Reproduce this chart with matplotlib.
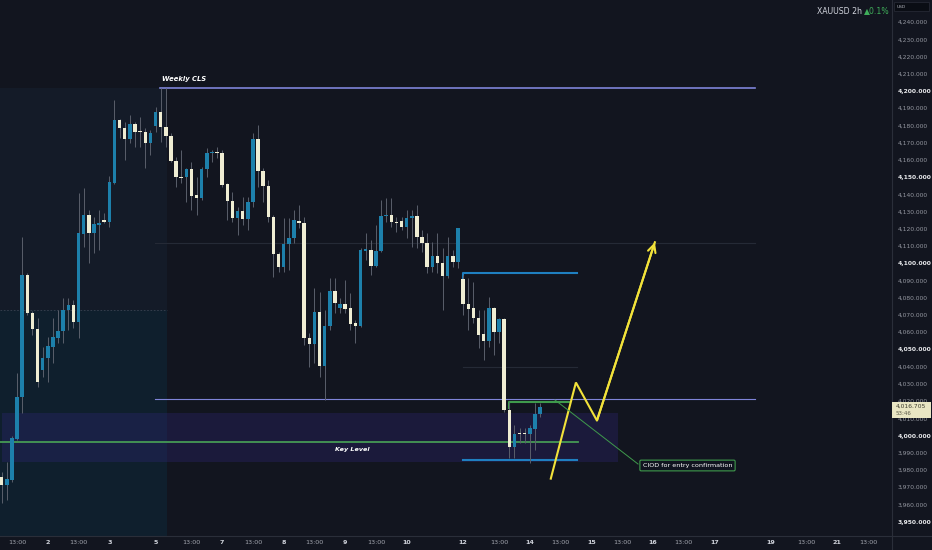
import matplotlib
matplotlib.use("Agg")
import matplotlib.pyplot as plt
from matplotlib.patches import Rectangle
from matplotlib.lines import Line2D

# ---------------- data ----------------
opens = [3975.9, 3971.2, 3974.2, 3997.9, 4022.3, 4093.0, 4071.0, 4061.7, 4038.0, 4044.9,
         4051.3, 4056.5, 4060.6, 4072.7, 4075.6, 4065.8, 4116.9, 4127.9, 4117.5, 4122.1,
         4125.0, 4123.8, 4146.5, 4183.1, 4178.4, 4172.1, 4180.8, 4176.7, 4176.1, 4169.8,
         4179.6, 4187.8, 4179.0, 4173.8, 4159.3, 4150.0, 4150.0, 4154.7, 4139.5, 4137.8,
         4154.7, 4164.0, 4164.5, 4164.0, 4146.0, 4136.0, 4126.2, 4130.2, 4125.6, 4135.5,
         4172.1, 4153.5, 4144.8, 4126.7, 4105.2, 4097.7, 4111.0, 4114.5, 4124.4, 4123.3,
         4056.5, 4053.0, 4071.6, 4040.3, 4063.5, 4083.8, 4073.9, 4076.2, 4073.9, 4065.2,
         4063.5, 4107.0, 4107.6, 4098.3, 4107.0, 4127.3, 4127.9, 4123.8, 4124.4, 4121.0,
         4126.2, 4127.3, 4115.1, 4111.6, 4097.7, 4104.1, 4100.0, 4092.5, 4104.1, 4100.6,
         4090.7, 4076.2, 4073.9, 4068.1, 4058.8, 4054.8, 4073.9, 4060.0, 4067.5, 4014.8,
         3993.3, 4001.4, 4001.4, 4000.8, 4003.7, 4012.4]
highs = [3978.8, 3984.6, 3999.7, 4036.2, 4115.1, 4094.2, 4072.2, 4068.1, 4051.3, 4057.1,
         4068.1, 4072.7, 4079.7, 4079.7, 4078.6, 4140.7, 4143.6, 4130.8, 4126.7, 4130.8,
         4129.1, 4150.6, 4194.8, 4183.6, 4181.9, 4186.0, 4181.9, 4184.9, 4178.4, 4177.3,
         4190.7, 4201.7, 4201.7, 4175.6, 4161.6, 4165.7, 4155.3, 4158.8, 4150.0, 4155.8,
         4166.9, 4165.7, 4167.4, 4165.7, 4146.5, 4141.3, 4132.6, 4138.4, 4138.4, 4175.6,
         4180.2, 4155.3, 4148.3, 4127.9, 4106.4, 4126.2, 4126.2, 4130.8, 4133.7, 4126.7,
         4059.4, 4085.5, 4083.2, 4072.7, 4091.3, 4091.3, 4079.7, 4090.2, 4082.6, 4067.0,
         4108.7, 4117.5, 4113.4, 4122.1, 4136.6, 4137.8, 4137.8, 4126.7, 4126.7, 4130.8,
         4130.8, 4133.7, 4119.2, 4117.5, 4112.2, 4117.5, 4108.7, 4115.1, 4107.6, 4120.4,
         4093.0, 4091.3, 4089.0, 4072.7, 4072.7, 4080.3, 4074.5, 4068.1, 4068.1, 4019.4,
         4006.1, 4004.3, 4004.3, 4006.1, 4018.8, 4018.8]
lows = [3960.8, 3962.5, 3973.0, 3997.4, 4013.0, 4069.9, 4058.3, 4028.1, 4033.9, 4031.0,
        4042.0, 4053.6, 4053.6, 4061.2, 4062.3, 4056.5, 4109.3, 4100.0, 4105.8, 4107.6,
        4123.3, 4121.0, 4146.0, 4172.7, 4159.9, 4169.8, 4167.4, 4167.4, 4155.3, 4162.8,
        4176.1, 4170.4, 4167.4, 4158.8, 4144.2, 4146.5, 4135.5, 4130.8, 4127.9, 4136.6,
        4150.0, 4158.8, 4161.1, 4144.2, 4125.0, 4123.8, 4116.3, 4122.1, 4119.2, 4132.6,
        4144.2, 4135.5, 4123.8, 4091.9, 4094.8, 4094.8, 4095.9, 4111.6, 4120.4, 4052.5,
        4039.7, 4042.0, 4033.9, 4020.6, 4061.2, 4071.0, 4071.0, 4071.0, 4061.2, 4053.6,
        4062.9, 4101.8, 4093.0, 4097.7, 4106.4, 4123.8, 4121.0, 4118.0, 4119.2, 4114.5,
        4109.3, 4108.7, 4106.4, 4094.2, 4094.8, 4094.2, 4072.7, 4091.3, 4097.7, 4097.1,
        4069.9, 4061.2, 4065.2, 4050.7, 4043.8, 4051.3, 4046.7, 4053.6, 4013.6, 3986.9,
        3986.9, 3995.6, 3995.6, 3984.0, 3991.6, 4010.7]
closes = [3971.2, 3974.7, 3998.5, 4022.3, 4093.0, 4071.0, 4061.7, 4031.0, 4044.9, 4051.9,
          4057.1, 4060.6, 4072.7, 4075.6, 4065.8, 4117.5, 4127.9, 4117.5, 4122.7, 4123.3,
          4123.8, 4147.1, 4183.1, 4178.4, 4172.1, 4180.8, 4176.1, 4176.1, 4169.8, 4175.6,
          4187.8, 4179.0, 4173.8, 4159.3, 4150.0, 4149.4, 4154.7, 4139.0, 4137.8, 4154.7,
          4164.0, 4164.5, 4164.0, 4145.4, 4136.0, 4126.2, 4130.2, 4125.6, 4135.5, 4172.1,
          4153.5, 4144.8, 4126.7, 4105.2, 4097.7, 4111.0, 4114.5, 4125.0, 4123.3, 4056.5,
          4053.0, 4071.6, 4040.3, 4063.5, 4083.8, 4076.8, 4076.2, 4073.3, 4064.6, 4063.5,
          4107.6, 4108.1, 4098.3, 4107.0, 4127.3, 4127.9, 4123.8, 4123.3, 4121.0, 4126.2,
          4127.3, 4115.1, 4111.6, 4097.7, 4104.1, 4100.0, 4092.5, 4104.1, 4100.6, 4120.4,
          4076.2, 4073.3, 4068.1, 4058.3, 4054.8, 4073.9, 4060.0, 4067.5, 4014.8, 3993.3,
          4000.8, 4000.8, 4000.8, 4004.3, 4012.4, 4016.705]

tick_bars = [3, 9, 15, 21, 30, 37, 43, 49, 55, 61, 67, 73, 79, 90, 97, 103, 109, 115,
             121, 127, 133, 139, 150, 157, 163, 169]
tick_labels = ["13:00", "2", "13:00", "3", "5", "13:00", "7", "13:00", "8", "13:00", "9",
               "13:00", "10", "12", "13:00", "14", "13:00", "15", "13:00", "16", "13:00",
               "17", "19", "13:00", "21", "13:00"]

price_ticks = list(range(3950, 4250, 10))

weekly_cls = 4201.7
upper_level = 4021.0
key_level = 3996.5
zone_top, zone_bot = 4013.0, 3984.6
target_top, target_bot = 4094.2, 3986.0
faint_hi, faint_mid = 4111.6, 4039.7
box_line = 4019.2
session_top = 4072.7
path_bars = [107.1, 112.0, 116.1, 127.4]
path_prices = [3975.0, 4030.8, 4008.7, 4112.2]
last_price = "4,016.705"
countdown = "53:46"

# ---------------- style ----------------
BG = "#12151f"
BLUE = "#1d80ab"
CREAM = "#efedd3"
WICK = "#5a5f6b"
GRID_TXT = "#9598a1"

W, H = 932, 550
fig = plt.figure(figsize=(W / 100, H / 100), dpi=100, facecolor=BG)
ax = fig.add_axes([0, 14 / H, 892 / W, 536 / H])
ax.set_facecolor(BG)

def px2bar(x):
    return (x - 1.7) / 5.127

def py2price(y):
    return 4200 - (y - 91) / 1.7228

ax.set_xlim(px2bar(0), px2bar(892))
ax.set_ylim(py2price(536), py2price(0))

xl0 = px2bar(0)
ybot = py2price(536)

# left session boxes
ax.add_patch(Rectangle((xl0, ybot), px2bar(167) - xl0, weekly_cls - ybot,
                       facecolor="#141b28", edgecolor="none", zorder=0))
ax.add_patch(Rectangle((xl0, ybot), px2bar(167) - xl0, session_top - ybot,
                       facecolor="#0f1f2d", edgecolor="none", zorder=0.5))
ax.plot([xl0, px2bar(167)], [session_top, session_top], color="#3a4150",
        lw=0.6, ls=(0, (2, 2)), zorder=0.6)

# purple zone
ax.add_patch(Rectangle((px2bar(2), zone_bot), px2bar(618) - px2bar(2), zone_top - zone_bot,
                       facecolor="#302679", alpha=0.32, edgecolor="none", zorder=1))

# faint lines
ax.plot([px2bar(155), px2bar(755)], [faint_hi, faint_hi], color="#252a36", lw=0.8, zorder=1)
ax.plot([px2bar(463), px2bar(577)], [faint_mid, faint_mid], color="#252a36", lw=0.8, zorder=1)

# levels
ax.plot([px2bar(160), px2bar(755)], [weekly_cls, weekly_cls], color="#7f84d8", lw=1.2, zorder=2)
ax.plot([px2bar(155), px2bar(755)], [upper_level, upper_level], color="#7f84d8", lw=0.8, zorder=2)
ax.plot([xl0, px2bar(578)], [key_level, key_level], color="#469a55", lw=1.3, zorder=2)
ax.plot([px2bar(463), px2bar(463), px2bar(577)], [target_top - 4, target_top, target_top],
        color="#1f7fc0", lw=1.5, zorder=2)
ax.plot([px2bar(463), px2bar(577)], [target_bot, target_bot], color="#1f7fc0", lw=1.5, zorder=2)
ax.plot([px2bar(509), px2bar(509), px2bar(570)], [box_line - 3, box_line, box_line],
        color="#3f9a4c", lw=1.5, zorder=2)

# candles
for i, (o, h, l, c) in enumerate(zip(opens, highs, lows, closes)):
    col = BLUE if c >= o else CREAM
    ax.plot([i, i], [l, h], color=WICK, lw=0.7, zorder=3, solid_capstyle="butt")
    lo = min(o, c)
    ht = max(abs(c - o), 0.6)
    ax.add_patch(Rectangle((i - 0.34, lo), 0.68, ht, facecolor=col, edgecolor="none", zorder=4))

# yellow projected path
ax.plot(path_bars, path_prices, color="#f2e23a", lw=1.5, zorder=5, solid_joinstyle="miter")
ax.annotate("", xy=(path_bars[-1], path_prices[-1]), xytext=(path_bars[-2], path_prices[-2]),
            arrowprops=dict(arrowstyle="->", color="#f2e23a", lw=1.5, mutation_scale=14,
                            shrinkA=0, shrinkB=0), zorder=5)

# green connector + label
ax.plot([px2bar(555), px2bar(638)], [py2price(400), py2price(464)], color="#3f9a4c", lw=0.7, zorder=5)
ax.text(px2bar(687.5), py2price(465.5), "CIOD for entry confirmation", color="white",
        fontsize=4.6, ha="center", va="center", zorder=6,
        bbox=dict(boxstyle="round,pad=0.45,rounding_size=0.2", fc="#10141f", ec="#3f9a4c", lw=0.8))

# labels
ax.text(px2bar(162), py2price(79), "Weekly CLS", color="white", fontsize=4.9,
        fontstyle="italic", fontweight="bold", ha="left", va="center", zorder=6)
ax.text(px2bar(352), py2price(449), "Key Level", color="white", fontsize=4.6,
        fontstyle="italic", fontweight="bold", ha="center", va="center", zorder=6)

# axes styling
for s in ax.spines.values():
    s.set_visible(False)
ax.set_xticks(tick_bars)
ax.set_xticklabels(tick_labels)
ax.tick_params(axis="x", length=0, pad=3.2, labelsize=4.6, colors="#a3a6af")
for lab in ax.get_xticklabels():
    if ":" not in lab.get_text():
        lab.set_fontweight("bold")
        lab.set_color("#d1d4dc")
ax.yaxis.tick_right()
ax.set_yticks(price_ticks)
ax.set_yticklabels([f"{v:,.3f}" for v in price_ticks])
ax.tick_params(axis="y", length=0, pad=4, labelsize=4.3)
for v, lab in zip(price_ticks, ax.get_yticklabels()):
    if v % 50 == 0:
        lab.set_color("#e8e9ec")
        lab.set_fontweight("bold")
    else:
        lab.set_color(GRID_TXT)

# separators
fig.add_artist(Line2D([892 / W, 892 / W], [0, 1], color="#2a2e39", lw=0.8))
fig.add_artist(Line2D([0, 1], [14.5 / H, 14.5 / H], color="#2a2e39", lw=0.8))

# USD box
fig.add_artist(Rectangle((894 / W, 1 - 11 / H), 35 / W, 9 / H, transform=fig.transFigure,
                         facecolor="#0a0d14", edgecolor="#2a2e39", lw=0.5))
fig.text(897 / W, 1 - 6.5 / H, "USD", color="#b2b5be", fontsize=3.2, va="center", ha="left")

# last price label
fig.add_artist(Rectangle((892 / W, 1 - 418 / H), 39 / W, 16 / H, transform=fig.transFigure,
                         facecolor="#e9e6c3", edgecolor="none", zorder=10))
fig.text(896 / W, 1 - 406 / H, last_price, color="#3b3a2c", fontsize=4.3, va="center",
         ha="left", zorder=11)
fig.text(896 / W, 1 - 413.5 / H, countdown, color="#5b5a48", fontsize=4.0, va="center",
         ha="left", zorder=11)

# header
fig.text(862 / W, 1 - 11 / H, "XAUUSD 2h", color="#d1d4dc", fontsize=5.6, ha="right", va="center")
fig.text(864 / W, 1 - 11 / H, "▲0.1%", color="#3fae5a", fontsize=5.6, ha="left", va="center")

fig.savefig("out.png", dpi=100, facecolor=BG)
